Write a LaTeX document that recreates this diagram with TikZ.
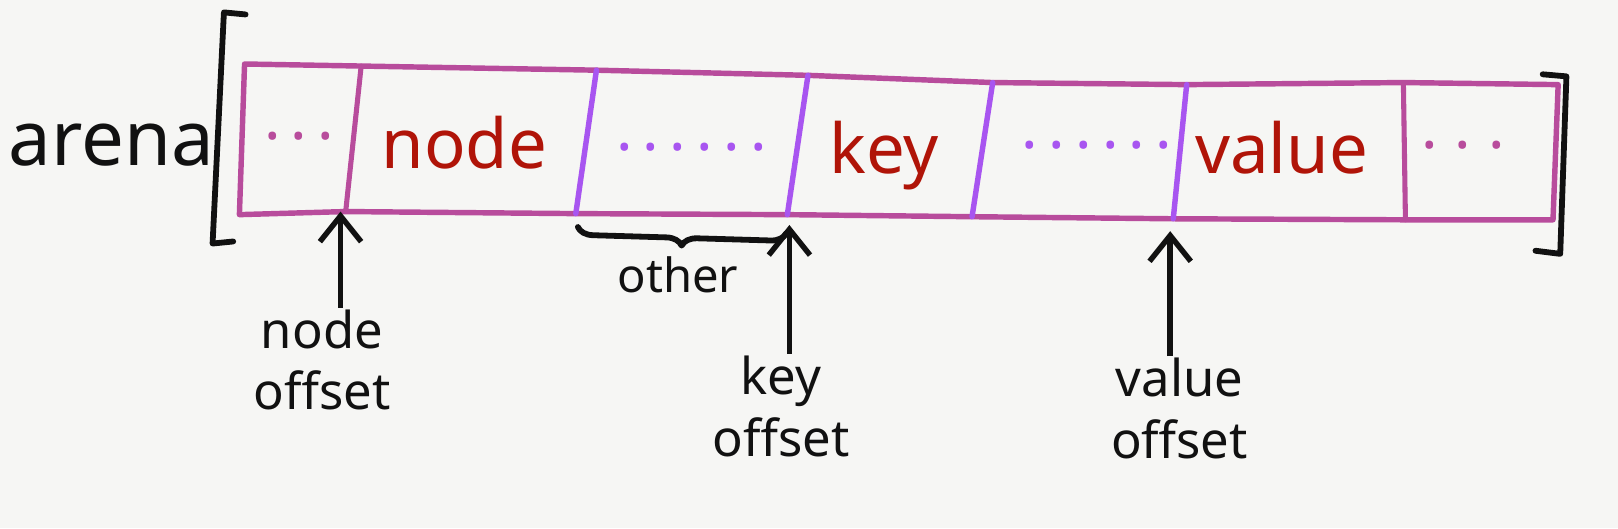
\documentclass[tikz,border=0pt]{standalone}
\usepackage{fontspec}
\setmainfont{Noto Sans}
\usepackage{tikz}
\usetikzlibrary{positioning, arrows.meta, decorations.pathreplacing}
\usepackage{xcolor}
\definecolor{arenaPaper}{HTML}{F6F6F4}
\definecolor{arenaBox}{HTML}{B84C9C}
\definecolor{arenaCut}{HTML}{A855F0}
\definecolor{arenaRed}{HTML}{B01408}
\definecolor{arenaInk}{HTML}{111111}

\begin{document}
\begin{tikzpicture}[
        x=0.02cm, y=-0.02cm,
        % Estilos de la caja del arena
        cellbox/.style={draw=arenaBox, line width=3pt, line join=round},
        cutplain/.style={draw=arenaBox, line width=2.8pt, line cap=round},
        cut/.style={draw=arenaCut, line width=3pt, line cap=round},
        % Estilos de los textos
        field/.style={text=arenaRed, font=\fontsize{38}{38}\selectfont, inner sep=0pt, anchor=base},
        filler/.style={font=\fontsize{34}{34}\selectfont, inner sep=0pt},
        offlabel/.style={font=\fontsize{28}{34}\selectfont, align=center, inner sep=1pt, text=arenaInk, anchor=north},
        % Estilos de las flechas
        pointer/.style={-{Straight Barb[length=0.5cm, width=0.8cm, line width=3pt]}, line width=3pt, draw=arenaInk},
        bracket/.style={draw=arenaInk, line width=3.2pt, line cap=round, line join=round}
    ]

    \useasboundingbox[fill=arenaPaper] (0,0) rectangle (1568,512);

    % -- Esquinas de las celdas (arriba / abajo) --
    \coordinate (t0) at (237,62);  \coordinate (b0) at (232,208);
    \coordinate (t1) at (350,64);  \coordinate (b1) at (335,205);
    \coordinate (t2) at (578,68);  \coordinate (b2) at (558,207);
    \coordinate (t3) at (783,73);  \coordinate (b3) at (763,208);
    \coordinate (t4) at (962,80);  \coordinate (b4) at (942,210);
    \coordinate (t5) at (1150,82); \coordinate (b5) at (1137,212);
    \coordinate (t6) at (1360,80); \coordinate (b6) at (1362,213);
    \coordinate (t7) at (1510,82); \coordinate (b7) at (1505,213);

    % -- Caja y divisiones --
    \draw[cellbox] (t0) -- (t1) -- (t2) -- (t3) -- (t4) -- (t5) -- (t6) -- (t7)
        -- (b7) -- (b6) -- (b5) -- (b4) -- (b3) -- (b2) -- (b1) -- (b0) -- cycle;
    \draw[cutplain] (t1) -- (b1);
    \draw[cut] (t2) -- (b2);
    \draw[cut] (t3) -- (b3);
    \draw[cut] (t4) -- (b4);
    \draw[cut] (t5) -- (b5);
    \draw[cutplain] (t6) -- (b6);

    % -- Corchetes --
    \draw[bracket] (238,14) -- (217,12) -- (206,236) -- (226,234);
    \draw[bracket] (1495,72) -- (1518,74) -- (1512,246) -- (1488,243);

    \node[font=\fontsize{42}{42}\selectfont, anchor=base, inner sep=0pt, text=arenaInk] (arena) at (108,160) {arena};

    % -- Contenido de las celdas --
    \node[filler, text=arenaBox] (pad1) at (290,132) {.\,.\,.};
    \node[field] (nd) at (450,163) {node};
    \node[filler, text=arenaCut] (pad2) at (670,143) {.\,.\,.\,.\,.\,.};
    \node[field] (ky) at (857,168) {key};
    \node[filler, text=arenaCut] (pad3) at (1063,141) {.\,.\,.\,.\,.\,.};
    \node[field] (vl) at (1242,168) {value};
    \node[filler, text=arenaBox] (pad4) at (1418,141) {.\;.\;.};

    % -- Desplazamientos --
    \coordinate (tipN) at (330,205);
    \coordinate (tipK) at (765,218);
    \coordinate (tipV) at (1134,224);

    \node[offlabel] (noff) at (312,298) {node\\offset};
    \node[offlabel] (koff) at (757,343) {key\\offset};
    \node[offlabel] (voff) at (1143,345) {value\\offset};

    \draw[pointer] (noff.north -| tipN) -- (tipN);
    \draw[pointer] (koff.north -| tipK) -- (tipK);
    \draw[pointer] (voff.north -| tipV) -- (tipV);

    % -- Llave de "other" --
    \coordinate (brL) at (560,220);
    \coordinate (brR) at (762,226);
    \draw[bracket, decorate, decoration={brace, mirror, amplitude=0.3cm}] (brL) -- (brR);
    \node[font=\fontsize{26}{26}\selectfont, anchor=base, inner sep=0pt, text=arenaInk] (oth) at (657,283) {other};

\end{tikzpicture}
\end{document}
